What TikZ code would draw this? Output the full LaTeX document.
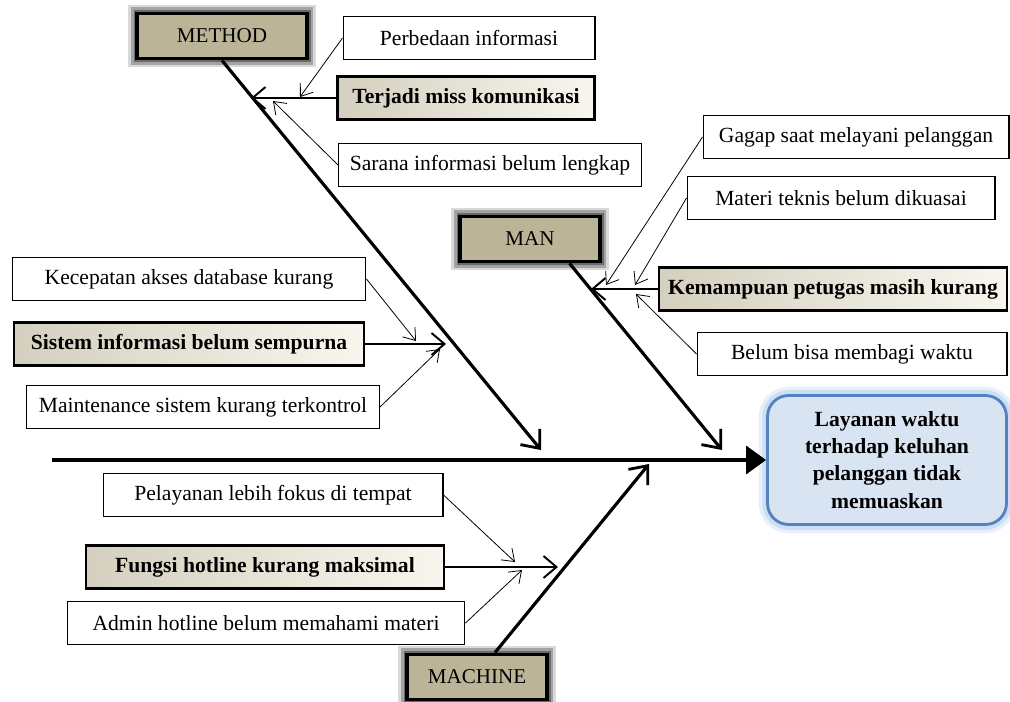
\documentclass[tikz,border=0pt]{standalone}
\usepackage{fontspec}
\setmainfont{Liberation Serif}
\usepackage{xcolor}
\usetikzlibrary{positioning, arrows.meta, calc}
\definecolor{catfill}{RGB}{188,180,150}
\definecolor{causedark}{RGB}{212,207,190}
\definecolor{causelight}{RGB}{248,246,238}
\definecolor{effectfill}{RGB}{216,228,241}
\definecolor{effectdraw}{RGB}{84,130,190}
\definecolor{effectglow}{RGB}{160,195,235}
\tikzset{
  catbox/.style={
    rectangle,
    draw=black,
    line width=2.2pt,
    fill=catfill,
    font=\fontsize{12}{14}\selectfont,
    inner sep=2pt,
    preaction={draw=black, line width=10pt, opacity=0.15},
    preaction={draw=black, line width=7pt, opacity=0.25},
    preaction={draw=black, line width=4pt, opacity=0.35}
  },
  causebox/.style={
    rectangle,
    draw=black,
    line width=0.6pt,
    fill=white,
    minimum height=0.86cm,
    font=\fontsize{12.3}{14}\selectfont,
    inner sep=2pt
  },
  keybox/.style={
    causebox,
    line width=1.4pt,
    left color=causedark,
    right color=causelight,
    font=\fontsize{12.3}{14}\selectfont\bfseries
  },
  effectbox/.style={
    rectangle,
    rounded corners=12pt,
    draw=effectdraw,
    line width=1.6pt,
    fill=effectfill,
    align=center,
    font=\fontsize{12.3}{15.5}\selectfont\bfseries,
    preaction={draw=effectglow, line width=10pt, opacity=0.25},
    preaction={draw=effectglow, line width=6pt, opacity=0.4}
  },
  spinearrow/.style={
    -{Straight Barb[length=3mm, width=5mm, line width=1.6pt]},
    line width=1.8pt
  },
  keyarrow/.style={
    -{Straight Barb[length=2.6mm, width=4.4mm]},
    line width=1.1pt
  },
  subarrow/.style={
    -{Straight Barb[length=2.2mm, width=3.2mm]},
    line width=0.45pt
  },
  headarrow/.style={
    -{Triangle[length=4mm, width=5.5mm]},
    line width=2.8pt
  }
}
\begin{document}
\begin{tikzpicture}[x=0.02cm, y=-0.02cm]
  \useasboundingbox (0,0) rectangle (1010,702);
  \clip (0,0) rectangle (1010,702);

  % effect
  \node[effectbox, minimum width=4.78cm, minimum height=2.58cm] (effect) at (887,460)
    {Layanan waktu\\terhadap keluhan\\pelanggan tidak\\memuaskan};
  \coordinate (spinetail) at (52,460);
  \draw[headarrow] (spinetail) -- (effect.west);

  % categories
  \node[catbox, minimum width=3.4cm, minimum height=0.9cm] (method) at (222,36) {METHOD};
  \node[catbox, minimum width=2.8cm, minimum height=0.9cm] (man) at (530,239) {MAN};
  \node[catbox, minimum width=2.8cm, minimum height=0.9cm] (machine) at (477,677) {MACHINE};

  \coordinate (methodhead) at (541,450);
  \coordinate (manhead) at (722,450);
  \coordinate (machinehead) at (649,464);
  \draw[spinearrow] (method.south) -- (methodhead);
  \draw[spinearrow] ($(man.south)!0.55!(man.south east)$) -- (manhead);
  \draw[spinearrow] ($(machine.north)!0.25!(machine.north east)$) -- (machinehead);

  % method causes
  \node[causebox, minimum width=5.04cm] (perbedaan) at (469,38) {Perbedaan informasi};
  \node[keybox, minimum width=5.14cm] (terjadi) at (466,98) {Terjadi miss komunikasi};
  \node[causebox, minimum width=6.06cm] (sarana) at (490,165) {Sarana informasi belum lengkap};
  \coordinate (terjadihead) at (251,98);
  \draw[keyarrow] (terjadi) -- (terjadihead);
  \draw[subarrow] (perbedaan.west) -- (300,97);
  \draw[subarrow] (sarana.west) -- (273,101);

  \node[causebox, minimum width=7.08cm] (kecepatan) at (189,279) {Kecepatan akses database kurang};
  \node[keybox, minimum width=7cm] (sistem) at (189,344) {Sistem informasi belum sempurna};
  \node[causebox, minimum width=7.06cm] (maintenance) at (203,407) {Maintenance sistem kurang terkontrol};
  \coordinate (sistemhead) at (446,344);
  \draw[keyarrow] (sistem) -- (sistemhead);
  \draw[subarrow] (kecepatan.east) -- (416,341);
  \draw[subarrow] (maintenance.east) -- (440,349);

  % man causes
  \node[causebox, minimum width=6.12cm] (gagap) at (856,137) {Gagap saat melayani pelanggan};
  \node[causebox, minimum width=6.16cm] (materi) at (841,198) {Materi teknis belum dikuasai};
  \node[keybox, minimum width=6.96cm] (kemampuan) at (833,289) {Kemampuan petugas masih kurang};
  \node[causebox, minimum width=6.2cm] (belum) at (852,354) {Belum bisa membagi waktu};
  \coordinate (kemampuanhead) at (591,289);
  \draw[keyarrow] (kemampuan) -- (kemampuanhead);
  \draw[subarrow] (gagap.west) -- (606,285);
  \draw[subarrow] (materi.west) -- (635,285);
  \draw[subarrow] (belum.west) -- (636,294);

  % machine causes
  \node[causebox, minimum width=6.8cm] (pelayanan) at (273,495) {Pelayanan lebih fokus di tempat};
  \node[keybox, minimum width=7.16cm] (fungsi) at (265,567) {Fungsi hotline kurang maksimal};
  \node[causebox, minimum width=7.96cm] (admin) at (266,623) {Admin hotline belum memahami materi};
  \coordinate (fungsihead) at (558,567);
  \draw[keyarrow] (fungsi) -- (fungsihead);
  \draw[subarrow] (pelayanan.east) -- (515,562);
  \draw[subarrow] (admin.east) -- (522,570);
\end{tikzpicture}
\end{document}
